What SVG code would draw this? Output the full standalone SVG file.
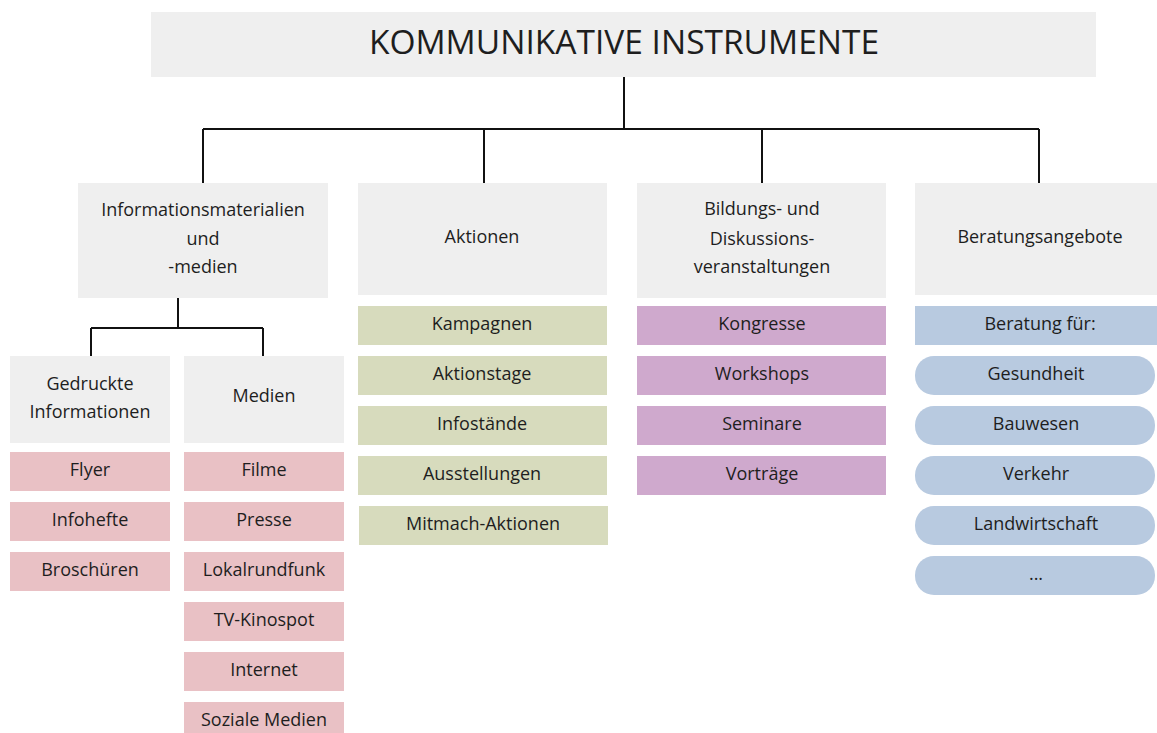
<svg xmlns="http://www.w3.org/2000/svg" width="1157" height="733" viewBox="0 0 1157 733">
<style>
  text { font-family: "Open Sans", "Noto Sans", "Liberation Sans", sans-serif; fill: #1e1e1e; text-anchor: middle; }
  .t { font-size: 33.5px; }
  .h { font-size: 18px; }
  .i { font-size: 18px; }
  .gray { fill: #efefef; }
  .pink { fill: #e9c1c5; }
  .green { fill: #d7dbbd; }
  .purple { fill: #cfa9cd; }
  .blue { fill: #b8cae0; }
  .ln { stroke: #111; stroke-width: 2; fill: none; }
</style>
<rect width="1157" height="733" fill="#ffffff"/>
<g id="connectors">
  <path class="ln" d="M624 77 V129 M203 129 H1039 M203 129 V183 M484 129 V183 M762 129 V183 M1039 129 V183"/>
  <path class="ln" d="M178 298 V328 M91 328 H263 M91 328 V356 M263 328 V356"/>
</g>
<g id="root">
  <rect class="gray" x="151" y="12" width="945" height="65"/>
  <text class="t" x="624" y="54">KOMMUNIKATIVE INSTRUMENTE</text>
</g>
<g id="info">
  <rect class="gray" x="78" y="183" width="250" height="115"/>
  <text class="h" x="203" y="216">Informationsmaterialien</text>
  <text class="h" x="203" y="245">und</text>
  <text class="h" x="203" y="273">-medien</text>
</g>
<g id="aktionen">
  <rect class="gray" x="358" y="183" width="249" height="112"/>
  <text class="h" x="482" y="243">Aktionen</text>
</g>
<g id="bildung">
  <rect class="gray" x="637" y="183" width="249" height="115"/>
  <text class="h" x="762" y="215">Bildungs- und</text>
  <text class="h" x="762" y="245">Diskussions-</text>
  <text class="h" x="762" y="273">veranstaltungen</text>
</g>
<g id="beratung">
  <rect class="gray" x="915" y="183" width="250" height="112"/>
  <text class="h" x="1040" y="243">Beratungsangebote</text>
</g>
<g id="gedruckte">
  <rect class="gray" x="10" y="356" width="160" height="87"/>
  <text class="h" x="90" y="390">Gedruckte</text>
  <text class="h" x="90" y="418">Informationen</text>
</g>
<g id="medien">
  <rect class="gray" x="184" y="356" width="160" height="87"/>
  <text class="h" x="264" y="402">Medien</text>
</g>
<g id="flyer"><rect class="pink" x="10" y="452" width="160" height="39"/><text class="i" x="90" y="476">Flyer</text></g>
<g id="infohefte"><rect class="pink" x="10" y="502" width="160" height="39"/><text class="i" x="90" y="526">Infohefte</text></g>
<g id="broschueren"><rect class="pink" x="10" y="552" width="160" height="39"/><text class="i" x="90" y="576">Broschüren</text></g>
<g id="filme"><rect class="pink" x="184" y="452" width="160" height="39"/><text class="i" x="264" y="476">Filme</text></g>
<g id="presse"><rect class="pink" x="184" y="502" width="160" height="39"/><text class="i" x="264" y="526">Presse</text></g>
<g id="lokalrundfunk"><rect class="pink" x="184" y="552" width="160" height="39"/><text class="i" x="264" y="576">Lokalrundfunk</text></g>
<g id="tvkinospot"><rect class="pink" x="184" y="602" width="160" height="39"/><text class="i" x="264" y="626">TV-Kinospot</text></g>
<g id="internet"><rect class="pink" x="184" y="652" width="160" height="39"/><text class="i" x="264" y="676">Internet</text></g>
<g id="sozialemedien"><rect class="pink" x="184" y="702" width="160" height="39"/><text class="i" x="264" y="726">Soziale Medien</text></g>
<g id="kampagnen"><rect class="green" x="358" y="306" width="249" height="39"/><text class="i" x="482" y="330">Kampagnen</text></g>
<g id="aktionstage"><rect class="green" x="358" y="356" width="249" height="39"/><text class="i" x="482" y="380">Aktionstage</text></g>
<g id="infostaende"><rect class="green" x="358" y="406" width="249" height="39"/><text class="i" x="482" y="430">Infostände</text></g>
<g id="ausstellungen"><rect class="green" x="358" y="456" width="249" height="39"/><text class="i" x="482" y="480">Ausstellungen</text></g>
<g id="mitmach"><rect class="green" x="359" y="506" width="249" height="39"/><text class="i" x="483" y="530">Mitmach-Aktionen</text></g>
<g id="kongresse"><rect class="purple" x="637" y="306" width="249" height="39"/><text class="i" x="762" y="330">Kongresse</text></g>
<g id="workshops"><rect class="purple" x="637" y="356" width="249" height="39"/><text class="i" x="762" y="380">Workshops</text></g>
<g id="seminare"><rect class="purple" x="637" y="406" width="249" height="39"/><text class="i" x="762" y="430">Seminare</text></g>
<g id="vortraege"><rect class="purple" x="637" y="456" width="249" height="39"/><text class="i" x="762" y="480">Vorträge</text></g>
<g id="beratungfuer"><rect class="blue" x="915" y="306" width="250" height="39"/><text class="i" x="1040" y="330">Beratung für:</text></g>
<g id="gesundheit"><rect class="blue" x="915" y="356" width="240" height="39" rx="19"/><text class="i" x="1036" y="380">Gesundheit</text></g>
<g id="bauwesen"><rect class="blue" x="915" y="406" width="240" height="39" rx="19"/><text class="i" x="1036" y="430">Bauwesen</text></g>
<g id="verkehr"><rect class="blue" x="915" y="456" width="240" height="39" rx="19"/><text class="i" x="1036" y="480">Verkehr</text></g>
<g id="landwirtschaft"><rect class="blue" x="915" y="506" width="240" height="39" rx="19"/><text class="i" x="1036" y="530">Landwirtschaft</text></g>
<g id="etc"><rect class="blue" x="915" y="556" width="240" height="39" rx="19"/><text class="i" x="1036" y="580">...</text></g>
</svg>
